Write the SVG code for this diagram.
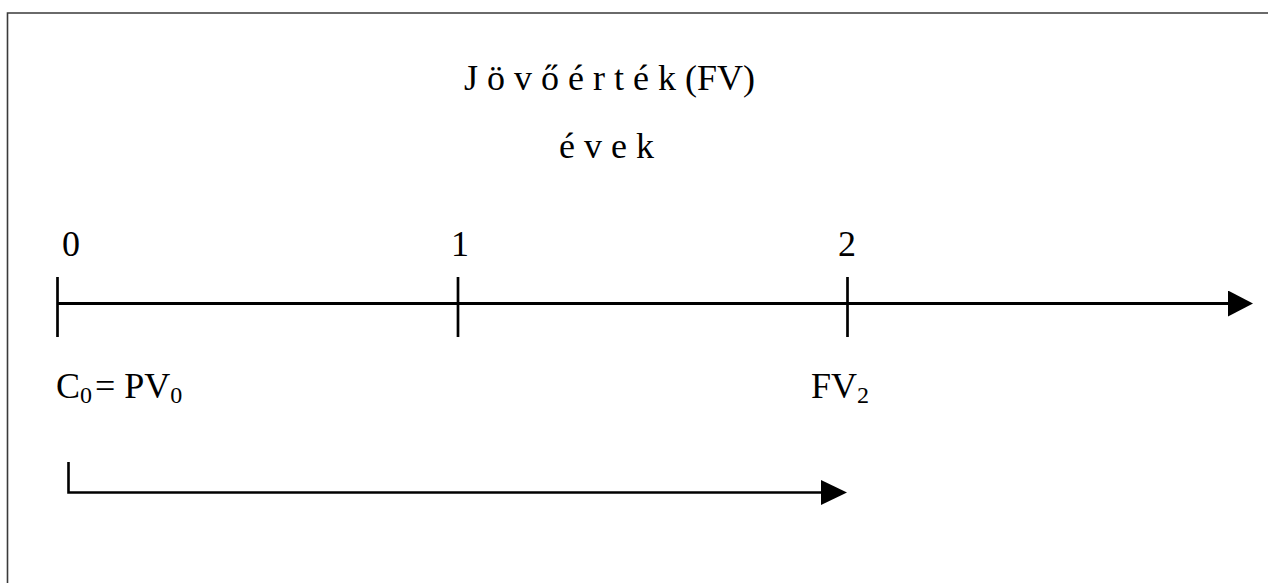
<svg xmlns="http://www.w3.org/2000/svg" width="1268" height="583" viewBox="0 0 1268 583">
  <style>
    .t { font-family: "Liberation Serif", "Times New Roman", serif; fill: #000; }
    .top { font-size: 36px; }
    .lbl { font-size: 36px; }
    .sub { font-size: 24px; }
    .ln { stroke: #000; fill: none; }
  </style>
  <defs>
    <marker id="bigArrow" viewBox="0 0 25 26" refX="0" refY="13" markerUnits="userSpaceOnUse" markerWidth="25" markerHeight="26" orient="auto">
      <path d="M0,0 L25,13 L0,26 Z" fill="#000"/>
    </marker>
    <marker id="smallArrow" viewBox="0 0 26 25" refX="0" refY="12.5" markerUnits="userSpaceOnUse" markerWidth="26" markerHeight="25" orient="auto">
      <path d="M0,0 L26,12.5 L0,25 Z" fill="#000"/>
    </marker>
  </defs>
  <rect width="1268" height="583" fill="#fff"/>
  <path d="M7.5,583 V13 H1268" stroke="#3a3a3a" stroke-width="1.6" fill="none"/>

  <g id="title">
    <text class="t top" x="464" y="90" xml:space="preserve">J ö v ő é r t é k (FV)</text>
  </g>
  <g id="years-label">
    <text class="t top" x="559" y="158" xml:space="preserve">é v e k</text>
  </g>

  <g id="connectors">
    <line id="axis" class="ln" x1="57" y1="303.5" x2="1228" y2="303.5" stroke-width="3" marker-end="url(#bigArrow)"/>
    <path id="flow" class="ln" d="M68.5,462 V492.5 H821" stroke-width="2.6" marker-end="url(#smallArrow)"/>
  </g>

  <g id="tick-0">
    <line class="ln" x1="57.5" y1="277" x2="57.5" y2="337" stroke-width="2.7"/>
    <text class="t top" x="62" y="256">0</text>
  </g>
  <g id="tick-1">
    <line class="ln" x1="458" y1="277" x2="458" y2="337" stroke-width="2.7"/>
    <text class="t top" x="451" y="256">1</text>
  </g>
  <g id="tick-2">
    <line class="ln" x1="847.5" y1="277" x2="847.5" y2="337" stroke-width="2.7"/>
    <text class="t top" x="838" y="256">2</text>
  </g>

  <g id="pv-label">
    <text class="t lbl" x="56" y="398">C<tspan class="sub" dy="5">0</tspan><tspan dy="-5" dx="3">= PV</tspan><tspan class="sub" dy="5">0</tspan></text>
  </g>
  <g id="fv-label">
    <text class="t lbl" x="811" y="398">FV<tspan class="sub" dy="5">2</tspan></text>
  </g>
</svg>
